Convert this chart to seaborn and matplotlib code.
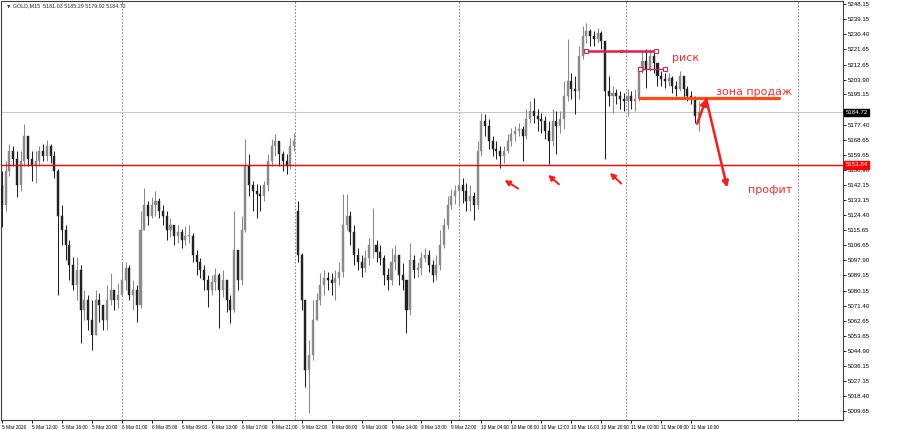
import matplotlib
matplotlib.use('Agg')
import seaborn as sns
import pandas as pd
import matplotlib.pyplot as plt
import matplotlib.transforms as mtransforms

sns.set_style("white")
plt.rcParams['font.family'] = ['DejaVu Sans']
small_font = ['Liberation Sans Narrow', 'Liberation Sans', 'DejaVu Sans']

first_open = 5141.8
gap_index = 79          # first candle of 9 Mar session
gap_open = 5127.1

closes = [
    5130.1, 5150.5, 5162.2, 5157.5, 5141.8, 5156.4, 5171.0, 5157.5, 5153.5, 5156.4,
    5162.2, 5159.3, 5165.1, 5159.3, 5150.5, 5124.2, 5115.5, 5106.7, 5095.0, 5083.3,
    5092.1, 5068.7, 5074.6, 5062.9, 5054.1, 5074.6, 5071.6, 5062.9, 5074.6, 5080.4,
    5074.6, 5077.5, 5086.3, 5093.3, 5077.5, 5080.4, 5071.6, 5115.5, 5130.1, 5124.2,
    5130.1, 5133.0, 5127.1, 5124.2, 5115.5, 5118.4, 5112.5, 5114.3, 5109.6, 5112.5,
    5112.5, 5100.9, 5096.8, 5092.1, 5086.3, 5080.4, 5085.1, 5089.2, 5080.4, 5086.3,
    5074.6, 5068.7, 5103.8, 5086.3, 5115.5, 5153.5, 5141.8, 5138.8, 5137.1, 5135.9,
    5141.8, 5156.4, 5165.1, 5168.1, 5160.5, 5156.4, 5153.5, 5165.1, 5168.1, 5100.9,
    5074.6, 5033.6, 5042.4, 5062.9, 5074.6, 5083.3, 5087.4, 5086.3, 5084.5, 5087.4,
    5090.9, 5118.4, 5124.2, 5114.3, 5100.9, 5096.8, 5093.3, 5099.1, 5106.7, 5106.7,
    5102.6, 5099.1, 5089.2, 5086.3, 5096.8, 5100.9, 5089.2, 5086.3, 5068.7, 5097.9,
    5092.1, 5093.3, 5099.1, 5100.9, 5095.0, 5089.2, 5095.0, 5106.7, 5118.4, 5130.1,
    5135.9, 5138.8, 5141.8, 5138.8, 5133.0, 5135.9, 5130.1, 5162.2, 5179.8, 5176.8,
    5168.1, 5163.4, 5162.2, 5159.3, 5162.2, 5168.1, 5172.2, 5173.9, 5175.1, 5171.0,
    5180.9, 5185.6, 5182.7, 5180.9, 5179.8, 5173.9, 5168.1, 5179.8, 5176.8, 5180.9,
    5194.4, 5203.1, 5198.5, 5197.3, 5217.8, 5229.4, 5232.4, 5229.4, 5227.7, 5231.2,
    5226.5, 5197.3, 5194.4, 5196.1, 5194.4, 5192.6, 5191.5, 5194.4, 5191.5, 5192.6,
    5209.0, 5214.8, 5210.2, 5217.8, 5213.7, 5206.1, 5204.3, 5203.1, 5204.9, 5200.2,
    5198.5, 5206.1, 5198.5, 5194.4, 5193.2, 5182.7, 5184.7]

highs = [
    5150.5, 5156.4, 5166.3, 5165.1, 5162.2, 5162.2, 5178.0, 5168.1, 5162.2, 5162.2,
    5165.1, 5166.3, 5168.7, 5166.3, 5162.2, 5151.7, 5130.1, 5118.4, 5109.6, 5099.7,
    5099.7, 5095.0, 5080.4, 5077.5, 5074.6, 5080.4, 5078.6, 5071.6, 5083.3, 5090.3,
    5080.4, 5084.5, 5096.8, 5096.8, 5095.0, 5086.3, 5083.3, 5127.1, 5140.6, 5133.0,
    5134.8, 5138.8, 5134.2, 5130.1, 5127.1, 5122.5, 5118.4, 5118.4, 5116.6, 5117.8,
    5118.4, 5113.7, 5103.8, 5099.1, 5095.0, 5089.2, 5089.2, 5093.3, 5090.3, 5092.1,
    5083.3, 5077.5, 5127.1, 5100.9, 5124.2, 5169.2, 5160.5, 5144.7, 5142.9, 5141.8,
    5144.7, 5160.5, 5169.2, 5172.2, 5168.1, 5162.2, 5160.5, 5169.8, 5172.7, 5133.0,
    5102.0, 5074.6, 5051.2, 5074.6, 5078.6, 5090.3, 5092.1, 5090.9, 5090.3, 5092.1,
    5096.8, 5137.1, 5137.1, 5127.1, 5118.4, 5104.9, 5100.9, 5103.8, 5110.8, 5128.9,
    5109.6, 5106.7, 5100.9, 5093.3, 5104.9, 5106.7, 5100.9, 5096.2, 5086.3, 5107.9,
    5100.9, 5096.8, 5102.6, 5104.9, 5103.8, 5097.9, 5100.9, 5115.5, 5122.5, 5135.9,
    5140.0, 5141.8, 5152.3, 5145.9, 5143.5, 5141.8, 5137.7, 5168.1, 5184.4, 5183.9,
    5180.9, 5171.0, 5168.1, 5165.1, 5165.1, 5172.2, 5175.7, 5176.8, 5178.6, 5176.8,
    5186.8, 5191.5, 5193.2, 5186.8, 5184.4, 5182.7, 5179.8, 5186.8, 5185.6, 5185.6,
    5203.1, 5227.7, 5207.8, 5206.1, 5223.6, 5235.3, 5237.0, 5233.5, 5232.4, 5234.1,
    5232.4, 5226.5, 5206.1, 5200.2, 5198.5, 5197.3, 5196.1, 5198.5, 5197.3, 5198.5,
    5211.9, 5220.7, 5221.8, 5221.8, 5221.8, 5213.7, 5209.0, 5207.8, 5207.8, 5206.1,
    5203.1, 5209.0, 5206.1, 5200.2, 5197.3, 5194.4, 5191.5]

lows = [
    5117.2, 5127.1, 5147.6, 5153.5, 5134.8, 5138.8, 5153.5, 5153.5, 5144.7, 5143.5,
    5153.5, 5156.4, 5156.4, 5155.2, 5145.9, 5077.5, 5106.7, 5097.9, 5086.3, 5080.4,
    5074.6, 5049.4, 5062.9, 5057.0, 5045.3, 5059.9, 5061.7, 5057.0, 5057.0, 5071.6,
    5068.7, 5069.9, 5079.2, 5080.4, 5074.6, 5068.7, 5061.7, 5069.9, 5116.6, 5118.4,
    5122.5, 5124.2, 5122.5, 5118.4, 5109.6, 5111.4, 5106.7, 5107.9, 5104.9, 5106.7,
    5107.9, 5096.8, 5089.2, 5087.4, 5080.4, 5070.5, 5077.5, 5080.4, 5058.2, 5076.3,
    5067.5, 5061.1, 5067.5, 5080.4, 5083.3, 5114.3, 5135.9, 5127.1, 5122.5, 5127.1,
    5133.0, 5138.8, 5153.5, 5159.3, 5153.5, 5150.5, 5148.8, 5151.7, 5162.2, 5096.8,
    5068.7, 5023.7, 5008.5, 5039.5, 5062.9, 5071.6, 5077.5, 5080.4, 5077.5, 5074.6,
    5083.3, 5088.0, 5115.5, 5106.7, 5095.0, 5092.1, 5088.0, 5090.9, 5095.0, 5099.1,
    5096.8, 5095.0, 5083.3, 5080.4, 5083.3, 5092.1, 5083.3, 5080.4, 5055.3, 5065.8,
    5087.4, 5088.0, 5089.2, 5096.8, 5090.9, 5085.1, 5086.3, 5092.1, 5104.9, 5116.6,
    5128.3, 5131.2, 5130.1, 5131.8, 5127.1, 5127.1, 5121.3, 5128.3, 5159.3, 5171.0,
    5163.4, 5159.3, 5157.5, 5152.3, 5155.2, 5161.1, 5165.1, 5168.1, 5171.0, 5156.4,
    5169.2, 5178.6, 5178.6, 5173.9, 5172.7, 5169.2, 5154.6, 5165.1, 5160.5, 5172.7,
    5175.1, 5191.5, 5192.6, 5183.9, 5192.6, 5216.0, 5225.4, 5223.6, 5223.6, 5225.4,
    5221.8, 5157.5, 5188.5, 5184.4, 5189.7, 5186.8, 5185.6, 5182.7, 5186.8, 5185.6,
    5191.5, 5207.8, 5199.0, 5209.0, 5207.8, 5200.2, 5200.2, 5199.0, 5200.2, 5196.1,
    5194.4, 5197.3, 5192.6, 5191.5, 5189.7, 5178.6, 5173.9]

time_labels = ["5 Mar 2026", "5 Mar 12:00", "5 Mar 16:00", "5 Mar 20:00",
               "6 Mar 01:00", "6 Mar 05:00", "6 Mar 09:00", "6 Mar 13:00",
               "6 Mar 17:00", "6 Mar 21:00", "9 Mar 02:00", "9 Mar 06:00",
               "9 Mar 10:00", "9 Mar 14:00", "9 Mar 18:00", "9 Mar 22:00",
               "10 Mar 04:00", "10 Mar 08:00", "10 Mar 12:00", "10 Mar 16:00",
               "10 Mar 20:00", "11 Mar 02:00", "11 Mar 06:00", "11 Mar 10:00"]
label_step = 8          # candles between time labels

# 5186.40 sits under the last-price box in the reference, so it is left out
price_ticks = [5248.15, 5239.15, 5230.40, 5221.65, 5212.65, 5203.90, 5195.15,
               5177.40, 5168.65, 5159.65, 5150.90, 5142.15, 5133.15,
               5124.40, 5115.65, 5106.65, 5097.90, 5089.15, 5080.15, 5071.40,
               5062.65, 5053.65, 5044.90, 5036.15, 5027.15, 5018.40, 5009.65]

day_breaks = [32.0, 78.2, 122.1, 166.7, 212.5]
support_level = 5153.84
last_price = 5184.72
title = "\u25bc GOLD,M15  5181.03 5185.29 5179.92 5184.72"

risk_top = 5220.7
risk_top_span = (156.0, 174.7)
risk_low = 5210.0
risk_low_span = (170.4, 177.1)
sell_zone = 5193.2
sell_zone_span = (170.4, 207.5)

# arrows: (tail_x, tail_y, head_x, head_y)
small_arrows = [(137.8, 5140.0, 134.2, 5145.0),
                (148.7, 5142.5, 145.8, 5148.0),
                (165.3, 5143.0, 162.3, 5149.2)]
up_arrow = (185.6, 5178.0, 188.0, 5192.6)
down_arrow = (188.0, 5192.6, 193.6, 5140.6)

df = pd.DataFrame({"close": closes, "high": highs, "low": lows})
df["i"] = range(len(df))
df["open"] = [first_open] + closes[:-1]
df.loc[gap_index, "open"] = gap_open
df["high"] = df[["high", "open", "close"]].max(axis=1)
df["low"] = df[["low", "open", "close"]].min(axis=1)
df["up"] = df["close"] >= df["open"]

fig = plt.figure(figsize=(9, 4.3), dpi=100)
ax = fig.add_axes([0.001, 10 / 430, 842 / 900, 419 / 430])

for up, color in [(True, "#8a8a8a"), (False, "#222222")]:
    d = df[df["up"] == up]
    ax.vlines(d["i"], d["low"], d["high"], color=color, lw=0.75, zorder=3)
    body = (d["close"] - d["open"]).abs().clip(lower=0.4)
    ax.bar(d["i"], body, bottom=d[["open", "close"]].min(axis=1),
           width=0.55, color=color, edgecolor=color, lw=0.3, zorder=4)

for b in day_breaks:
    ax.axvline(b, color="#8a8a8a", lw=0.8, ls=(0, (1.5, 1.5)), zorder=1)

ax.axhline(last_price, color="#c8c8c8", lw=0.8, zorder=2)
ax.axhline(support_level, color="#ff0000", lw=1.0, zorder=5)

# risk lines with small end markers
sns.lineplot(x=list(risk_top_span), y=[risk_top, risk_top], ax=ax, color="#e0204a",
             lw=1.8, marker="s", markersize=3, markerfacecolor="white",
             markeredgecolor="#e0204a", zorder=6)
sns.lineplot(x=list(risk_low_span), y=[risk_low, risk_low], ax=ax, color="#e0204a",
             lw=1.0, marker="s", markersize=3, markerfacecolor="white",
             markeredgecolor="#e0204a", zorder=6)
ax.plot([sum(risk_top_span) / 2], [risk_top], marker="s", markersize=2,
        color="white", markeredgecolor="#e0204a", zorder=7)

ax.plot(list(sell_zone_span), [sell_zone, sell_zone], color="#ff4a12", lw=2.3, zorder=6)

for tx, ty, hx, hy in small_arrows:
    ax.annotate("", xy=(hx, hy), xytext=(tx, ty),
                arrowprops=dict(arrowstyle="-|>", color="#ff1a1a", lw=1.4,
                                mutation_scale=8, shrinkA=0, shrinkB=0), zorder=7)
for tx, ty, hx, hy in [up_arrow, down_arrow]:
    ax.annotate("", xy=(hx, hy), xytext=(tx, ty),
                arrowprops=dict(arrowstyle="-|>", color="#ff1a1a", lw=1.8,
                                mutation_scale=9, shrinkA=0, shrinkB=0), zorder=7)

ax.text(178.9, 5216.6, "риск", color="#ff2a2a", fontsize=8, va="center", ha="left")
ax.text(190.7, 5196.3, "зона продаж", color="#ff2a2a", fontsize=8, va="center", ha="left")
ax.text(199.2, 5139.4, "профит", color="#ff2a2a", fontsize=8, va="center", ha="left")

ax.set_xlim(-0.27, 224.5)
ax.set_ylim(5004.4, 5249.9)

ax.set_xticks([k * label_step for k in range(len(time_labels))])
ax.set_xticklabels(time_labels, fontsize=3.4, ha="left", family=small_font)
ax.yaxis.tick_right()
ax.set_yticks(price_ticks)
ax.set_yticklabels([f"{p:.2f}" for p in price_ticks], fontsize=4.4, family=small_font)
ax.tick_params(axis="both", length=2.5, width=0.6, pad=1, colors="black")
ax.tick_params(axis="x", bottom=True)
ax.tick_params(axis="y", right=True)

for s in ax.spines.values():
    s.set_color("#404040")
    s.set_linewidth(0.8)

ax.text(0.006, 0.995, title, transform=ax.transAxes, fontsize=3.9, va="top",
        ha="left", family=small_font)

trans = mtransforms.blended_transform_factory(ax.transAxes, ax.transData)
ax.text(1.003, last_price, f"{last_price:.2f}", transform=trans, fontsize=4.4,
        color="white", va="center", ha="left", zorder=10, family=small_font,
        bbox=dict(boxstyle="square,pad=0.2", fc="black", ec="black"))
ax.text(1.003, support_level, f"{support_level:.2f}", transform=trans, fontsize=4.4,
        color="white", va="center", ha="left", zorder=10, family=small_font,
        bbox=dict(boxstyle="square,pad=0.2", fc="#ff0000", ec="#ff0000"))

plt.savefig("out.png", dpi=100)
